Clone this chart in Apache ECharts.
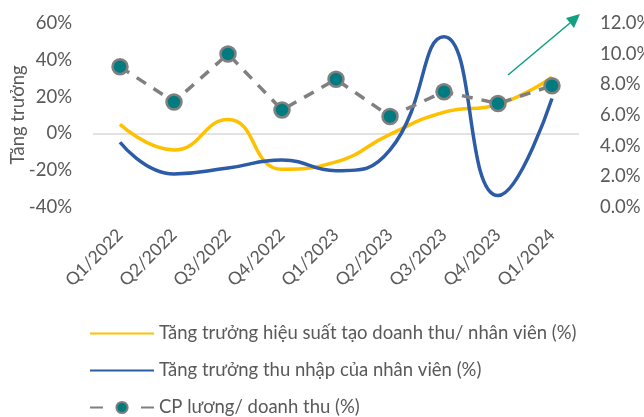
<!DOCTYPE html>
<html>
<head>
<meta charset="utf-8">
<script src="https://cdn.jsdelivr.net/npm/echarts@6/dist/echarts.min.js"></script>
<style>html,body{margin:0;padding:0;background:#fff}#c{width:644px;height:417px}</style>
</head>
<body>
<div id="c"></div>
<script>
const categories = ['Q1/2022','Q2/2022','Q3/2022','Q4/2022','Q1/2023','Q2/2023','Q3/2023','Q4/2023','Q1/2024'];
const revenuePerStaffGrowth = [5.0, -9.0, 7.5, -19.5, -15.5, -0.5, 11.5, 15.8, 30.5];
const incomeGrowth = [-4.8, -22.0, -18.8, -14.5, -20.3, -9.0, 52.5, -33.8, 19.0];
const salaryToRevenue = [9.15, 6.85, 9.98, 6.33, 8.33, 5.9, 7.52, 6.75, 7.91];
const leftTicks = [-40, 60, 20];
const rightTicks = [0, 12, 2];
const names = ['Tăng trưởng hiệu suất tạo doanh thu/ nhân viên (%)', 'Tăng trưởng thu nhập của nhân viên (%)', 'CP lương/ doanh thu (%)'];

const FONT = 'Lato';
const TXT = '#595959';
const legendTops = [324, 361, 398];
function legendFor(i, extra) {
  const item = Object.assign({name: names[i]}, extra);
  return {
    orient: 'horizontal', left: 89, top: legendTops[i], padding: 0,
    itemWidth: 64, itemHeight: 14,
    textStyle: {fontFamily: FONT, fontSize: 18.5, lineHeight: 18, color: TXT},
    data: [item]
  };
}
const chart = echarts.init(document.getElementById('c'), null, {renderer: 'canvas'});
chart.setOption({
  animation: false,
  textStyle: {fontFamily: FONT},
  grid: {left: 93, right: 65, top: 23, bottom: 210, containLabel: false, outerBoundsMode: 'none'},
  legend: [
    legendFor(0, {itemStyle: {opacity: 0}}),
    legendFor(1, {itemStyle: {opacity: 0}}),
    legendFor(2, {lineStyle: {type: [13, 38]}})
  ],
  xAxis: {
    type: 'category', data: categories, boundaryGap: true,
    axisLine: {show: false}, axisTick: {show: false},
    axisLabel: {rotate: 45, margin: 25, fontSize: 17.5, color: TXT, fontFamily: FONT}
  },
  yAxis: [{
    type: 'value', min: leftTicks[0], max: leftTicks[1], interval: leftTicks[2],
    name: 'Tăng trưởng', nameLocation: 'middle', nameGap: 65, nameRotate: 90, nameMoveOverlap: false,
    nameTextStyle: {fontSize: 18.5, color: TXT, fontFamily: FONT},
    axisLine: {show: false}, axisTick: {show: false}, splitLine: {show: false},
    axisLabel: {formatter: v => v + '%', fontSize: 18.5, color: TXT, margin: 21, fontFamily: FONT}
  }, {
    type: 'value', min: rightTicks[0], max: rightTicks[1], interval: rightTicks[2],
    axisLine: {show: false}, axisTick: {show: false}, splitLine: {show: false},
    axisLabel: {formatter: v => v.toFixed(1) + '%', fontSize: 18.5, color: TXT, margin: 21, fontFamily: FONT}
  }],
  graphic: [{
    type: 'line', shape: {x1: 508, y1: 75, x2: 570, y2: 23},
    style: {stroke: '#12A085', lineWidth: 1.6}
  }, {
    type: 'polygon', shape: {points: [[580, 14], [566, 18], [574, 28]]},
    style: {fill: '#12A085'}
  }],
  series: [{
    name: names[0], type: 'line', data: revenuePerStaffGrowth, smooth: 0.5, showSymbol: false, symbol: 'none',
    lineStyle: {color: '#FFC000', width: 3.5}, itemStyle: {color: '#FFC000'}, z: 3,
    markLine: {silent: true, symbol: 'none', label: {show: false}, lineStyle: {color: '#D9D9D9', width: 1.5, type: 'solid'}, data: [{yAxis: 0}], z: 1}
  }, {
    name: names[1], type: 'line', data: incomeGrowth, smooth: 0.5, showSymbol: false, symbol: 'none',
    lineStyle: {color: '#2C5BA8', width: 3.5}, itemStyle: {color: '#2C5BA8'}, z: 4
  }, {
    name: names[2], type: 'line', yAxisIndex: 1, data: salaryToRevenue,
    symbol: 'circle', symbolSize: 15,
    lineStyle: {color: '#808080', width: 3.5, type: [11, 9]},
    itemStyle: {color: '#007B80', borderColor: '#808080', borderWidth: 2.5}, z: 5
  }]
});
</script>
</body>
</html>
